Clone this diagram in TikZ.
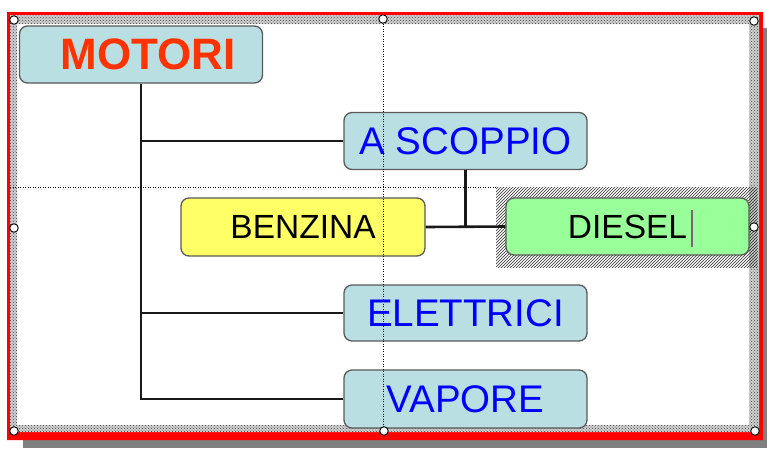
\documentclass[tikz,border=0pt]{standalone}
\usepackage{fontspec}
\setmainfont{Liberation Sans}
\usetikzlibrary{patterns}
\definecolor{boxblue}{HTML}{B9DFE3}
\definecolor{boxline}{HTML}{5A5A5A}
\definecolor{motorired}{HTML}{FF3300}
\definecolor{txtblue}{HTML}{0000FF}
\definecolor{boxyellow}{HTML}{FFFF66}
\definecolor{boxgreen}{HTML}{99FF99}
\definecolor{shadowgray}{HTML}{808080}
\definecolor{bandgray}{HTML}{404040}
\definecolor{bandbase}{HTML}{D0D0D0}
\definecolor{cursorcol}{HTML}{806080}
\tikzset{
  orgbox/.style={draw=boxline, line width=1.3pt, rounded corners=8pt, inner sep=0pt,
    minimum width=243pt, minimum height=57pt, fill=boxblue},
  bluetxt/.style={text=txtblue, font=\fontsize{38.5}{40}\selectfont},
  blacktxt/.style={text=black, font=\fontsize{33.5}{35}\selectfont},
  conn/.style={draw=black!90, line width=2.6pt},
  guide/.style={draw=black, line width=0.9pt, dash pattern=on 1pt off 1.5pt},
  handle/.style={circle, draw=black, fill=white, line width=0.9pt, minimum size=8.5pt, inner sep=0pt}
}
\begin{document}
\begin{tikzpicture}[x=1pt,y=-1pt]
\useasboundingbox (0,0) rectangle (767,448);
\fill[white] (0,0) rectangle (767,448);
% shadow
\fill[shadowgray] (23,440) rectangle (767,448);
\fill[shadowgray] (763,28) rectangle (767,448);
% red frame
\fill[red, even odd rule] (7,12) rectangle (763,440) (10,15) rectangle (759,432);
% dotted selection band
\fill[bandbase, even odd rule] (10,15) rectangle (759,432) (17,24) rectangle (749,425);
\fill[pattern=crosshatch dots, pattern color=bandgray, even odd rule] (10,15) rectangle (759,432) (17,24) rectangle (749,425);
% hatched area around DIESEL
\fill[pattern=north east lines, pattern color=black!85] (496,187) rectangle (757,267);
% nodes
\node[orgbox] (motori) at (141,54.5) {\hspace*{14pt}\fontsize{44}{46}\selectfont\bfseries\color{motorired}MOTORI};
\node[orgbox, bluetxt] (scoppio) at (465.5,141) {A SCOPPIO};
\node[orgbox, blacktxt, fill=boxyellow, minimum width=244pt, minimum height=58pt] (benzina) at (303,227) {BENZINA};
\node[orgbox, blacktxt, fill=boxgreen] (diesel) at (627.5,226.5) {DIESEL\hspace{10pt}};
\node[orgbox, bluetxt, minimum height=56pt] (elettrici) at (465.5,313) {ELETTRICI};
\node[orgbox, bluetxt, minimum height=58pt] (vapore) at (465.5,399) {VAPORE};
% connectors
\draw[conn] (motori.south) |- (vapore.west);
\draw[conn] (motori.south |- scoppio.west) -- (scoppio.west);
\draw[conn] (motori.south |- elettrici.west) -- (elettrici.west);
\draw[conn] (scoppio.south) -- (scoppio.south |- benzina.east);
\draw[conn] (benzina.east) -- (diesel.west);
% guides
\draw[guide] (383,16) -- (383,432);
\draw[guide] (10,187) -- (496,187);
% text cursor
\draw[cursorcol, line width=1.2pt] (692,210) -- (692,247);
% handles
\node[handle] (h1) at (14,20) {};
\node[handle] (h2) at (383,19) {};
\node[handle] (h3) at (754,21) {};
\node[handle] (h4) at (14,228) {};
\node[handle] (h5) at (754,227) {};
\node[handle] (h6) at (14,431) {};
\node[handle] (h7) at (384,431) {};
\node[handle] (h8) at (755,431) {};
\end{tikzpicture}
\end{document}
